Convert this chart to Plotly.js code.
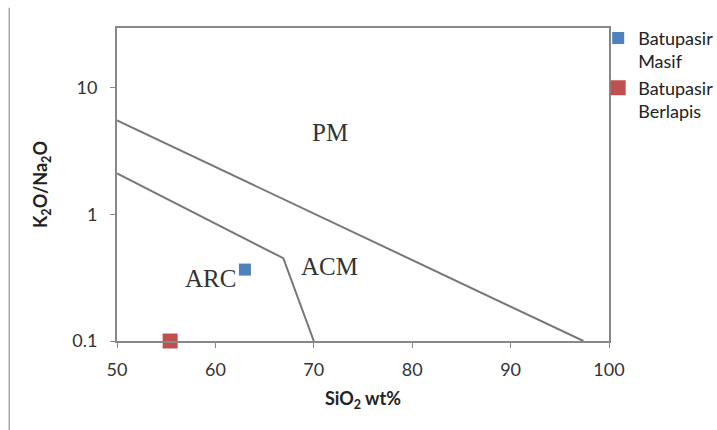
<!DOCTYPE html>
<html>
<head>
<meta charset="utf-8">
<script src="https://cdn.plot.ly/plotly-3.0.1.min.js"></script>
<style>html,body{margin:0;padding:0;background:#fff;}#chart{width:717px;height:430px;}</style>
</head>
<body>
<div id="chart"></div>
<script>
// Boundary lines (SiO2 wt%, K2O/Na2O)
const pmAcmX = [50, 97.4];
const pmAcmY = [5.5, 0.1];
const arcAcmX = [50, 66.9, 70];
const arcAcmY = [2.1, 0.45, 0.1];

// Samples
const seriesNames = ['Batupasir<br>Masif', 'Batupasir<br>Berlapis'];
const masifX = [63.0];
const masifY = [0.366];
const berlapisX = [55.4];
const berlapisY = [0.1];

// Field labels
const fieldNames = ['PM', 'ACM', 'ARC'];
const fieldX = [71.6, 71.6, 59.5];
const fieldY = [4.4, 0.385, 0.31];

// Tick labels
const yTickVals = [0.1, 1, 10];
const yTickText = ['0.1', '1', '10'];
const xTickVals = [50, 60, 70, 80, 90, 100];

const lineStyle = {color: '#777777', width: 2};
const traces = [
  {x: pmAcmX, y: pmAcmY, mode: 'lines', line: lineStyle, showlegend: false, hoverinfo: 'skip'},
  {x: arcAcmX, y: arcAcmY, mode: 'lines', line: lineStyle, showlegend: false, hoverinfo: 'skip'},
  {x: masifX, y: masifY, mode: 'markers', name: seriesNames[0], cliponaxis: false,
   marker: {symbol: 'square', size: 12, color: '#4F81BD'}},
  {x: berlapisX, y: berlapisY, mode: 'markers', name: seriesNames[1], cliponaxis: false,
   marker: {symbol: 'square', size: 15, color: '#C0504D'}}
];

const annotations = fieldNames.map((t, i) => ({
  x: fieldX[i], y: Math.log10(fieldY[i]), xref: 'x', yref: 'y', text: t, showarrow: false,
  font: {family: 'Liberation Serif, Times New Roman, serif', size: 25, color: '#333333'}
}));

const layout = {
  width: 717, height: 430,
  margin: {l: 117, r: 108, t: 28, b: 89, autoexpand: false},
  paper_bgcolor: '#ffffff', plot_bgcolor: '#ffffff',
  font: {family: 'Lato, Open Sans, sans-serif', color: '#333333', size: 16},
  showlegend: true,
  legend: {x: 0.978, y: 1.026, xanchor: 'left', yanchor: 'top', bgcolor: 'rgba(0,0,0,0)',
           valign: 'top', font: {size: 18, color: '#222222'}, itemwidth: 30, tracegroupgap: 0},
  xaxis: {
    range: [50, 100], tickvals: xTickVals, ticks: 'outside', ticklen: 5, tickcolor: '#888888',
    showline: true, mirror: true, linecolor: '#888888', linewidth: 2, showgrid: false, zeroline: false,
    tickfont: {size: 18, color: '#333333'}, ticklabelstandoff: 6,
    title: {text: '<b>SiO<sub>2</sub> wt%</b>', font: {size: 18, color: '#222222'}, standoff: 14}
  },
  yaxis: {
    type: 'log', range: [-1, 1.47], tickvals: yTickVals, ticktext: yTickText,
    ticks: 'outside', ticklen: 5, tickcolor: '#888888',
    showline: true, mirror: true, linecolor: '#888888', linewidth: 2, showgrid: false, zeroline: false,
    tickfont: {size: 18, color: '#333333'}, ticklabelstandoff: 9,
    title: {text: '<b>K<sub>2</sub>O/Na<sub>2</sub>O</b>', font: {size: 18, color: '#222222'}, standoff: 20}
  },
  annotations: annotations,
  shapes: [
    {type: 'line', xref: 'paper', yref: 'paper', x0: -0.219, x1: -0.219, y0: 1.065, y1: -0.29,
     line: {color: '#aaaaaa', width: 1.5}}
  ]
};

Plotly.newPlot('chart', traces, layout, {displayModeBar: false, staticPlot: true});
</script>
</body>
</html>
